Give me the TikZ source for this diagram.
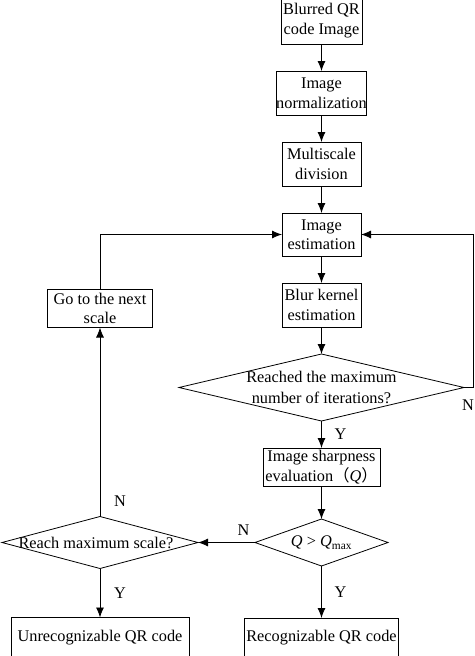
\documentclass[tikz,border=0pt]{standalone}
\usepackage{fontspec}
\setmainfont{Liberation Serif}
\newfontfamily\cjk{Noto Sans CJK SC}
\usetikzlibrary{positioning}
\usetikzlibrary{shapes.geometric}
\usetikzlibrary{arrows.meta}

\begin{document}
\begin{tikzpicture}[
		x=1pt,y=1pt,
		>={Latex[length=10pt,width=8pt]},
		line width=0.8pt,
		every node/.append style={
			font=\fontsize{16.3}{19.5}\selectfont,
			inner sep=0pt,
			outer sep=0pt,
		},
		process/.style={draw=black,align=center,minimum height=44pt},
		decision/.style={draw=black,diamond},
		dtext/.style={align=center},
		answer/.style={},
	]
	\useasboundingbox (0,0) rectangle (474,-656);
	% main column
	\node[process,minimum width=81pt,minimum height=47pt] (blurred) at (321.5,-20.5) {Blurred QR\\code Image};
	\node[process,minimum width=90pt] (normalize) [below=27pt of blurred] {Image\\normalization};
	\node[process,minimum width=79pt] (multiscale) [below=27pt of normalize] {Multiscale\\division};
	\node[process,minimum width=79pt,minimum height=43pt] (imgest) [below=27pt of multiscale] {Image\\estimation};
	\node[process,minimum width=79pt] (kernelest) [below=27pt of imgest] {Blur kernel\\estimation};
	\node[decision,minimum width=285pt,minimum height=67pt,
		label={[dtext,font=\fontsize{16.3}{21}\selectfont]center:Reached the maximum\\number of iterations?}] (maxiter) [below=27pt of kernelest] {};
	\node[process,minimum width=117pt,minimum height=38pt] (sharpness) [below=27pt of maxiter]
		{Image sharpness\\evaluation{\cjk （}\textit{Q}{\cjk ）}};
	\node[decision,minimum width=133pt,minimum height=47pt,
		label={[dtext]center:\textit{Q} > \textit{Q}\textsubscript{max}}] (qtest) [below=33pt of sharpness] {};
	\node[process,minimum width=154pt,minimum height=40pt] (recog) [below=52pt of qtest] {Recognizable QR code};
	% left side of the picture
	\node[decision,minimum width=196pt,minimum height=52pt,
		label={[dtext,xshift=-4pt]center:Reach maximum scale?}] (maxscale) [left=57pt of qtest] {};
	\node[process,minimum width=178pt,minimum height=40pt] (unrecog) [below=49pt of maxscale] {Unrecognizable QR code};
	\node[process,minimum width=105pt,minimum height=38pt] (nextscale) [above=189pt of maxscale] {Go to the next\\scale};
	\coordinate[right=9pt of maxiter.east] (loopright);
	% draw the connection lines
	\draw[->] (blurred) -- (normalize);
	\draw[->] (normalize) -- (multiscale);
	\draw[->] (multiscale) -- (imgest);
	\draw[->] (imgest) -- (kernelest);
	\draw[->] (kernelest) -- (maxiter);
	\draw[->] (maxiter) -- node[answer,right=13pt]{Y} (sharpness);
	\draw[->] (maxiter.east) -- (loopright) node[answer,below=12pt,xshift=-5pt]{N} |- (imgest);
	\draw[->] (sharpness) -- (qtest);
	\draw[->] (qtest) -- node[answer,right=13pt]{Y} (recog);
	\draw[->] (qtest) -- node[answer,pos=0.2,above=7pt]{N} (maxscale);
	\draw[->] (maxscale) -- node[answer,right=14pt]{Y} (unrecog);
	\draw[->] (maxscale) -- node[answer,pos=0.08,right=14pt]{N} (nextscale);
	\draw[->] (nextscale) |- (imgest);
\end{tikzpicture}
\end{document}
